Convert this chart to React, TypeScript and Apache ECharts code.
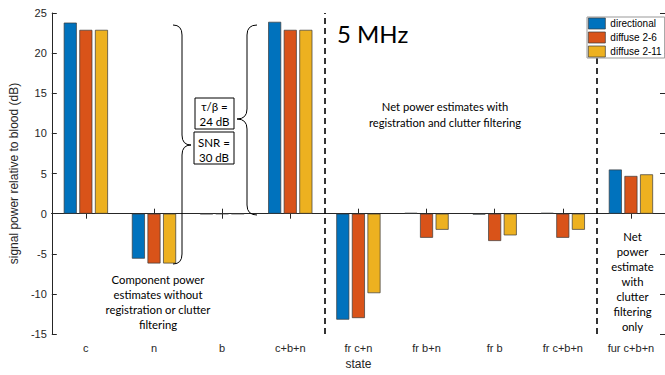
import React, { useEffect, useRef } from "react";
import * as echarts from "echarts";

const categories = ["c", "n", "b", "c+b+n", "fr c+n", "fr b+n", "fr b", "fr c+b+n", "fur c+b+n"];
const seriesNames = ["directional", "diffuse 2-6", "diffuse 2-11"];
const directional = [23.8, -5.6, -0.05, 23.9, -13.2, 0.1, -0.1, 0.1, 5.5];
const diffuse26 = [22.9, -6.2, -0.03, 22.9, -13.0, -3.0, -3.4, -3.0, 4.7];
const diffuse211 = [22.9, -6.2, -0.03, 22.9, -9.9, -2.0, -2.7, -2.0, 4.9];
const seriesValues = [directional, diffuse26, diffuse211];
const seriesColors = ["#0072BD", "#D95319", "#EDB120"];
const yMin = -15;
const yMax = 25;
const yStep = 5;
// divider position (in category units) and the top value it reaches (second one stops under the legend)
const sectionDividers = [4, 8];
const dividerTops = [25, 19.4];

const TEXT_FONT = "Lato, 'Open Sans', sans-serif";
const AXIS_FONT = "'Liberation Sans', Arial, sans-serif";

echarts.graphic.registerShape(
  "braceRight",
  echarts.graphic.extendPath(
    "M173,25 Q182,25 182,35 L182,135 Q182,145 191,145 Q182,145 182,155 L182,254 Q182,264 173,264",
    {}
  )
);
echarts.graphic.registerShape(
  "braceLeft",
  echarts.graphic.extendPath(
    "M257,25 Q247,25 247,35 L247,109 Q247,119 237,119 Q247,119 247,129 L247,205 Q247,215 257,215",
    {}
  )
);

export default function App() {
  const ref = useRef<HTMLDivElement>(null);
  useEffect(() => {
    if (!ref.current) return;
    const chart = echarts.init(ref.current, undefined, { renderer: "svg" });
    const axisColor = "#262626";
    const option: any = {
      animation: false,
      backgroundColor: "#fff",
      grid: { left: 45, right: 0, top: 13, bottom: 37, containLabel: false },
      legend: {
        data: seriesNames.map((name, i) => ({
          name,
          icon: "rect",
          itemStyle: { color: seriesColors[i], borderColor: "#3a3a3a", borderWidth: 0.7 },
        })),
        orient: "vertical",
        left: 587,
        top: 17,
        z: 50,
        itemWidth: 17,
        itemHeight: 11,
        itemGap: 1,
        padding: [0, 3, 0, 1],
        backgroundColor: "#fff",
        borderColor: "#999",
        borderWidth: 1,
        textStyle: { fontSize: 10, fontFamily: AXIS_FONT, color: "#000", lineHeight: 13 },
      },
      xAxis: [
        {
          type: "category",
          data: categories,
          position: "bottom",
          name: "state",
          nameLocation: "middle",
          nameGap: 23,
          nameTextStyle: { fontSize: 12, fontFamily: AXIS_FONT, color: axisColor },
          axisLine: { show: true, lineStyle: { color: axisColor, width: 1 } },
          axisTick: { show: true, inside: true, alignWithLabel: true, length: 5, lineStyle: { color: axisColor } },
          axisLabel: { fontSize: 11, fontFamily: AXIS_FONT, color: axisColor, margin: 8 },
          splitLine: { show: false },
        },
        {
          type: "category",
          data: categories,
          position: "top",
          axisLine: { show: true, lineStyle: { color: axisColor, width: 1 } },
          axisTick: { show: true, inside: true, alignWithLabel: true, length: 5, lineStyle: { color: axisColor } },
          axisLabel: { show: false },
          splitLine: { show: false },
        },
        {
          type: "value",
          min: 0,
          max: categories.length,
          show: false,
        },
      ],
      yAxis: [
        {
          type: "value",
          min: yMin,
          max: yMax,
          interval: yStep,
          position: "left",
          name: "signal power relative to blood (dB)",
          nameLocation: "middle",
          nameGap: 26,
          nameTextStyle: { fontSize: 12, fontFamily: AXIS_FONT, color: axisColor },
          axisLine: { show: true, lineStyle: { color: axisColor, width: 1 } },
          axisTick: { show: true, inside: true, length: 5, lineStyle: { color: axisColor } },
          axisLabel: { fontSize: 11, fontFamily: AXIS_FONT, color: axisColor, margin: 5 },
          splitLine: { show: false },
        },
        {
          type: "value",
          min: yMin,
          max: yMax,
          interval: yStep,
          position: "right",
          axisLine: { show: true, lineStyle: { color: axisColor, width: 1 } },
          axisTick: { show: true, inside: true, length: 5, lineStyle: { color: axisColor } },
          axisLabel: { show: false },
          splitLine: { show: false },
        },
      ],
      series: [
        ...seriesNames.map((name, i) => ({
          name,
          type: "bar",
          xAxisIndex: 0,
          yAxisIndex: 0,
          data: seriesValues[i],
          barWidth: 13,
          barGap: "20%",
          itemStyle: { color: seriesColors[i], borderColor: "#3a3a3a", borderWidth: 0.7 },
          markLine:
            i === 0
              ? {
                  silent: true,
                  symbol: "none",
                  z: 2,
                  label: { show: false },
                  lineStyle: { color: axisColor, type: "solid", width: 1 },
                  data: [{ yAxis: 0 }],
                }
              : undefined,
          z: 3,
        })),
        {
          name: "dividers",
          type: "line",
          xAxisIndex: 2,
          yAxisIndex: 0,
          data: [[sectionDividers[0], 0]],
          symbol: "none",
          lineStyle: { opacity: 0 },
          z: 2,
          markLine: {
            silent: true,
            symbol: "none",
            z: 2,
            label: { show: false },
            lineStyle: { color: "#000", type: [6, 4], width: 1.6 },
            data: sectionDividers.map((v, i) => [
              { coord: [v, yMin] },
              { coord: [v, dividerTops[i]] },
            ]),
          },
        },
      ],
      graphic: [
        {
          type: "braceRight",
          x: 0,
          y: 0,
          style: { stroke: "#000", fill: "none", lineWidth: 1 },
          z: 10,
        },
        {
          type: "braceLeft",
          x: 0,
          y: 0,
          style: { stroke: "#000", fill: "none", lineWidth: 1 },
          z: 10,
        },
        {
          type: "rect",
          shape: { x: 195, y: 98, width: 39, height: 31 },
          style: { fill: "#fff", stroke: "#000", lineWidth: 1 },
          z: 10,
        },
        {
          type: "text",
          x: 214.5,
          y: 114,
          style: {
            text: "τ/β =\n24 dB",
            fontSize: 11.5,
            fontFamily: TEXT_FONT,
            fill: "#000",
            align: "center",
            verticalAlign: "middle",
            lineHeight: 15,
          },
          z: 11,
        },
        {
          type: "rect",
          shape: { x: 194, y: 132, width: 40, height: 32 },
          style: { fill: "#fff", stroke: "#000", lineWidth: 1 },
          z: 10,
        },
        {
          type: "text",
          x: 214,
          y: 150,
          style: {
            text: "SNR =\n30 dB",
            fontSize: 11.5,
            fontFamily: TEXT_FONT,
            fill: "#000",
            align: "center",
            verticalAlign: "middle",
            lineHeight: 15,
          },
          z: 11,
        },
        {
          type: "text",
          x: 337,
          y: 21,
          style: { text: "5 MHz", fontSize: 24, fontFamily: TEXT_FONT, fill: "#000" },
          z: 11,
        },
        {
          type: "text",
          x: 445,
          y: 114,
          style: {
            text: "Net power estimates with\nregistration and clutter filtering",
            fontSize: 11.2,
            fontFamily: TEXT_FONT,
            fill: "#000",
            align: "center",
            verticalAlign: "middle",
            lineHeight: 16,
          },
          z: 11,
        },
        {
          type: "text",
          x: 158,
          y: 302,
          style: {
            text: "Component power\nestimates without\nregistration or clutter\nfiltering",
            fontSize: 11.3,
            fontFamily: TEXT_FONT,
            fill: "#000",
            align: "center",
            verticalAlign: "middle",
            lineHeight: 14.7,
          },
          z: 11,
        },
        {
          type: "text",
          x: 632.5,
          y: 281,
          style: {
            text: "Net\npower\nestimate\nwith\nclutter\nfiltering\nonly",
            fontSize: 11.3,
            fontFamily: TEXT_FONT,
            fill: "#000",
            align: "center",
            verticalAlign: "middle",
            lineHeight: 15,
          },
          z: 11,
        },
      ],
    };
    chart.setOption(option);
    return () => chart.dispose();
  }, []);
  return (
    <div
      ref={ref}
      style={{ position: "absolute", left: 0, top: 0, width: 665, height: 375 }}
    />
  );
}
